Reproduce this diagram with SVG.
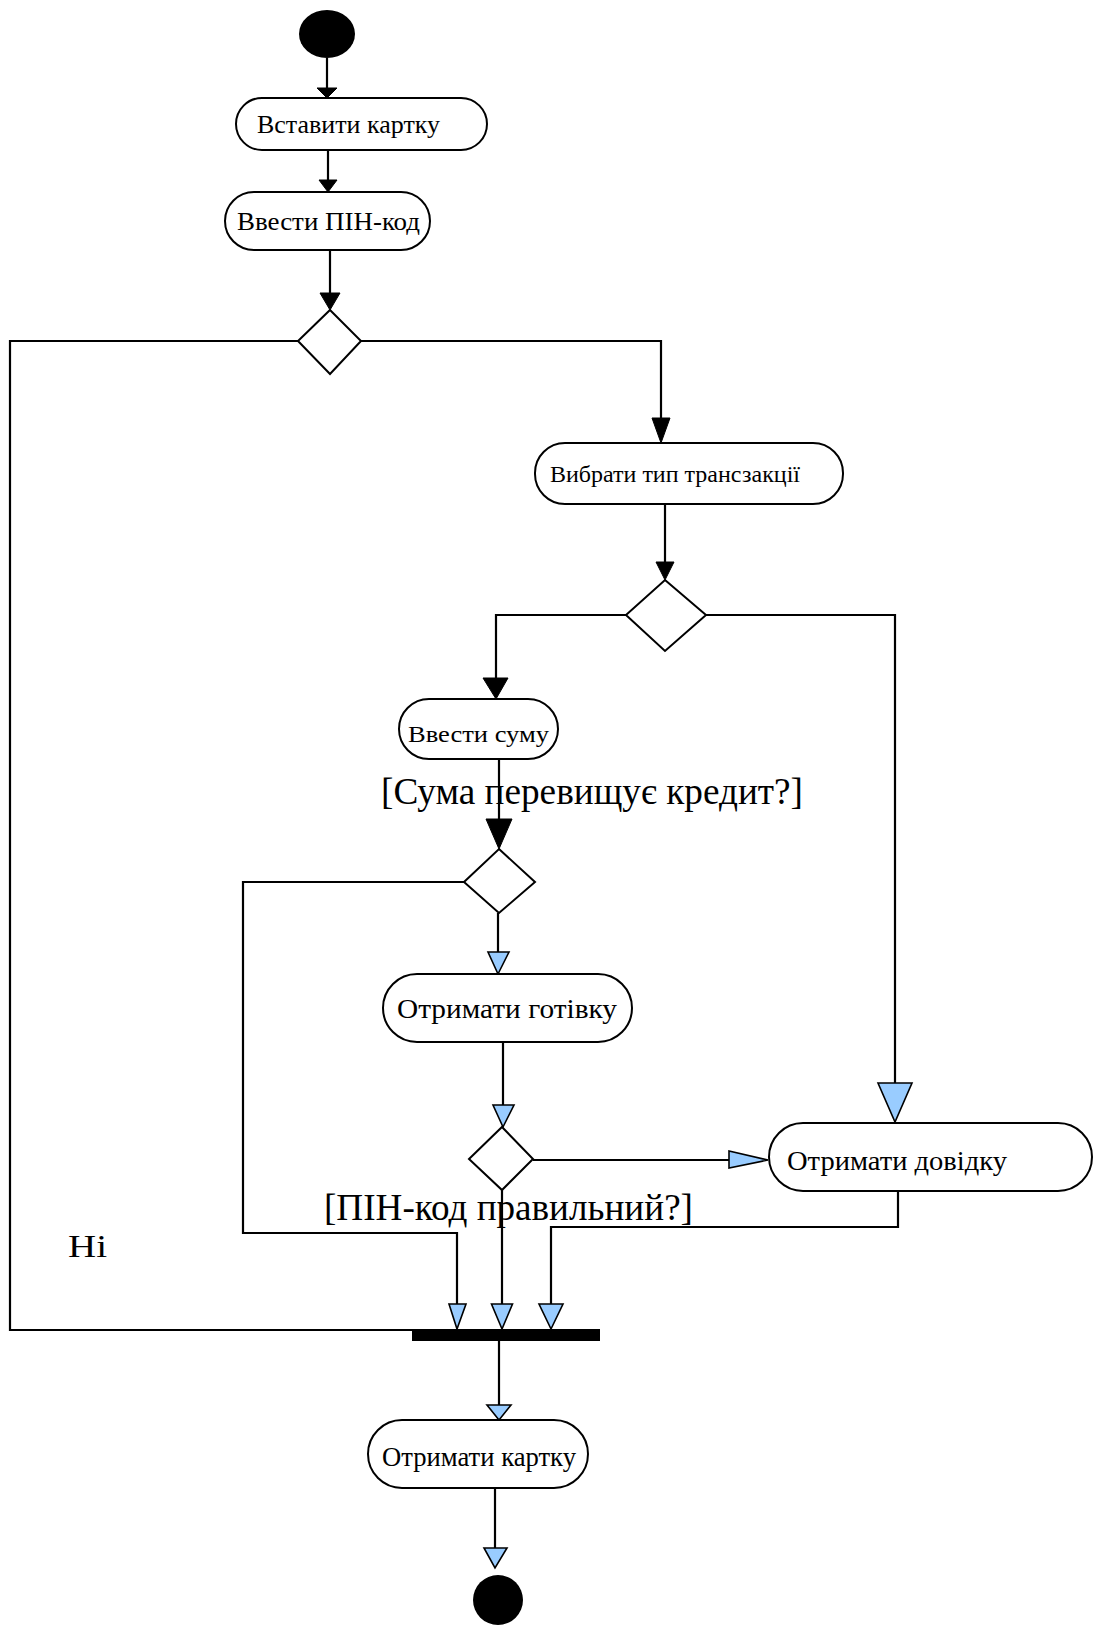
<svg xmlns="http://www.w3.org/2000/svg" width="1097" height="1627" viewBox="0 0 1097 1627">
<style>
.node{fill:#fff;stroke:#000;stroke-width:2}
.dec{fill:#fff;stroke:#000;stroke-width:2}
.t{font-family:"Liberation Serif","Times New Roman",serif;fill:#000}
.ln{fill:none;stroke:#000;stroke-width:2.2}
.ab{fill:#000;stroke:#000;stroke-width:1}
.aw{fill:#99ccff;stroke:#000;stroke-width:1.6;stroke-linejoin:miter}
</style>
<rect width="1097" height="1627" fill="#fff"/>
<g id="connectors">
<polyline class="ln" points="327,58 327,90"/>
<polygon class="ab" points="317,88 337,88 327,98"/>
<polyline class="ln" points="328,150 328,182"/>
<polygon class="ab" points="319,180 337,180 328,192"/>
<polyline class="ln" points="330,250 330,296"/>
<polygon class="ab" points="320,293 340,293 330,310"/>
<polyline class="ln" points="298,341 10,341 10,1330 412,1330"/>
<polyline class="ln" points="361,341 661,341 661,420"/>
<polygon class="ab" points="652,418 670,418 661,443"/>
<polyline class="ln" points="665,504 665,564"/>
<polygon class="ab" points="656,562 674,562 665,580"/>
<polyline class="ln" points="626,615 496,615 496,680"/>
<polygon class="ab" points="483,678 508,678 496,699"/>
<polyline class="ln" points="706,615 895,615 895,1085"/>
<polygon class="aw" points="878,1083 912,1083 895,1122"/>
<polyline class="ln" points="499,759 499,821"/>
<polygon class="ab" points="486,819 512,819 499,849"/>
<polyline class="ln" points="464,882 243,882 243,1233 457,1233 457,1306"/>
<polygon class="aw" points="449,1304 466,1304 457,1329"/>
<polyline class="ln" points="498,913 498,954"/>
<polygon class="aw" points="488,952 509,952 498,974"/>
<polyline class="ln" points="503,1042 503,1107"/>
<polygon class="aw" points="493,1105 514,1105 503,1127"/>
<polyline class="ln" points="533,1160 731,1160"/>
<polygon class="aw" points="729,1151 729,1168 768,1160"/>
<polyline class="ln" points="502,1190 502,1306"/>
<polygon class="aw" points="491.5,1304 512.5,1304 502,1329"/>
<polyline class="ln" points="898,1191 898,1227 551,1227 551,1306"/>
<polygon class="aw" points="539,1304 563,1304 551,1329"/>
<polyline class="ln" points="499,1341 499,1407"/>
<polygon class="aw" points="487,1405 511,1405 499,1420"/>
<polyline class="ln" points="495,1488 495,1550"/>
<polygon class="aw" points="484,1548 507,1548 495,1568"/>
</g>
<g id="start"><ellipse cx="327" cy="34" rx="28" ry="24" fill="#000"/></g>
<g id="n-insert"><rect class="node" x="236" y="98" width="251" height="52" rx="26"/><text class="t" x="257" y="133" font-size="25" textLength="183" lengthAdjust="spacingAndGlyphs">Вставити картку</text></g>
<g id="n-pin"><rect class="node" x="225" y="192" width="205" height="58" rx="29"/><text class="t" x="237" y="230" font-size="25" textLength="183" lengthAdjust="spacingAndGlyphs">Ввести ПІН-код</text></g>
<g id="d1"><polygon class="dec" points="330,310 361,341 330,374 298,341"/></g>
<g id="n-type"><rect class="node" x="535" y="443" width="308" height="61" rx="30"/><text class="t" x="550" y="482" font-size="24" textLength="250" lengthAdjust="spacingAndGlyphs">Вибрати тип трансзакції</text></g>
<g id="d2"><polygon class="dec" points="665,580 706,615 665,651 626,615"/></g>
<g id="n-sum"><rect class="node" x="399" y="699" width="159" height="60" rx="30"/><text class="t" x="408" y="742" font-size="24" textLength="141" lengthAdjust="spacingAndGlyphs">Ввести суму</text></g>
<g id="g-sum"><text class="t" x="381" y="804" font-size="37" textLength="422" lengthAdjust="spacingAndGlyphs">[Сума перевищує кредит?]</text></g>
<g id="d3"><polygon class="dec" points="499,849 535,882 499,913 464,882"/></g>
<g id="n-cash"><rect class="node" x="383" y="974" width="249" height="68" rx="34"/><text class="t" x="397" y="1018" font-size="28" textLength="220" lengthAdjust="spacingAndGlyphs">Отримати готівку</text></g>
<g id="d4"><polygon class="dec" points="502,1127 533,1159 502,1190 469,1159"/></g>
<g id="n-receipt"><rect class="node" x="769" y="1123" width="323" height="68" rx="34"/><text class="t" x="787" y="1170" font-size="28" textLength="220" lengthAdjust="spacingAndGlyphs">Отримати довідку</text></g>
<g id="g-pin"><text class="t" x="324" y="1220" font-size="37" textLength="369" lengthAdjust="spacingAndGlyphs">[ПІН-код правильний?]</text></g>
<g id="g-no"><text class="t" x="68" y="1257" font-size="32" textLength="39" lengthAdjust="spacingAndGlyphs">Ні</text></g>
<g id="join"><rect x="412" y="1329" width="188" height="12" fill="#000"/></g>
<g id="n-card"><rect class="node" x="368" y="1420" width="220" height="68" rx="34"/><text class="t" x="382" y="1466" font-size="27" textLength="194" lengthAdjust="spacingAndGlyphs">Отримати картку</text></g>
<g id="end"><ellipse cx="498" cy="1600" rx="25" ry="25" fill="#000"/></g>
</svg>
